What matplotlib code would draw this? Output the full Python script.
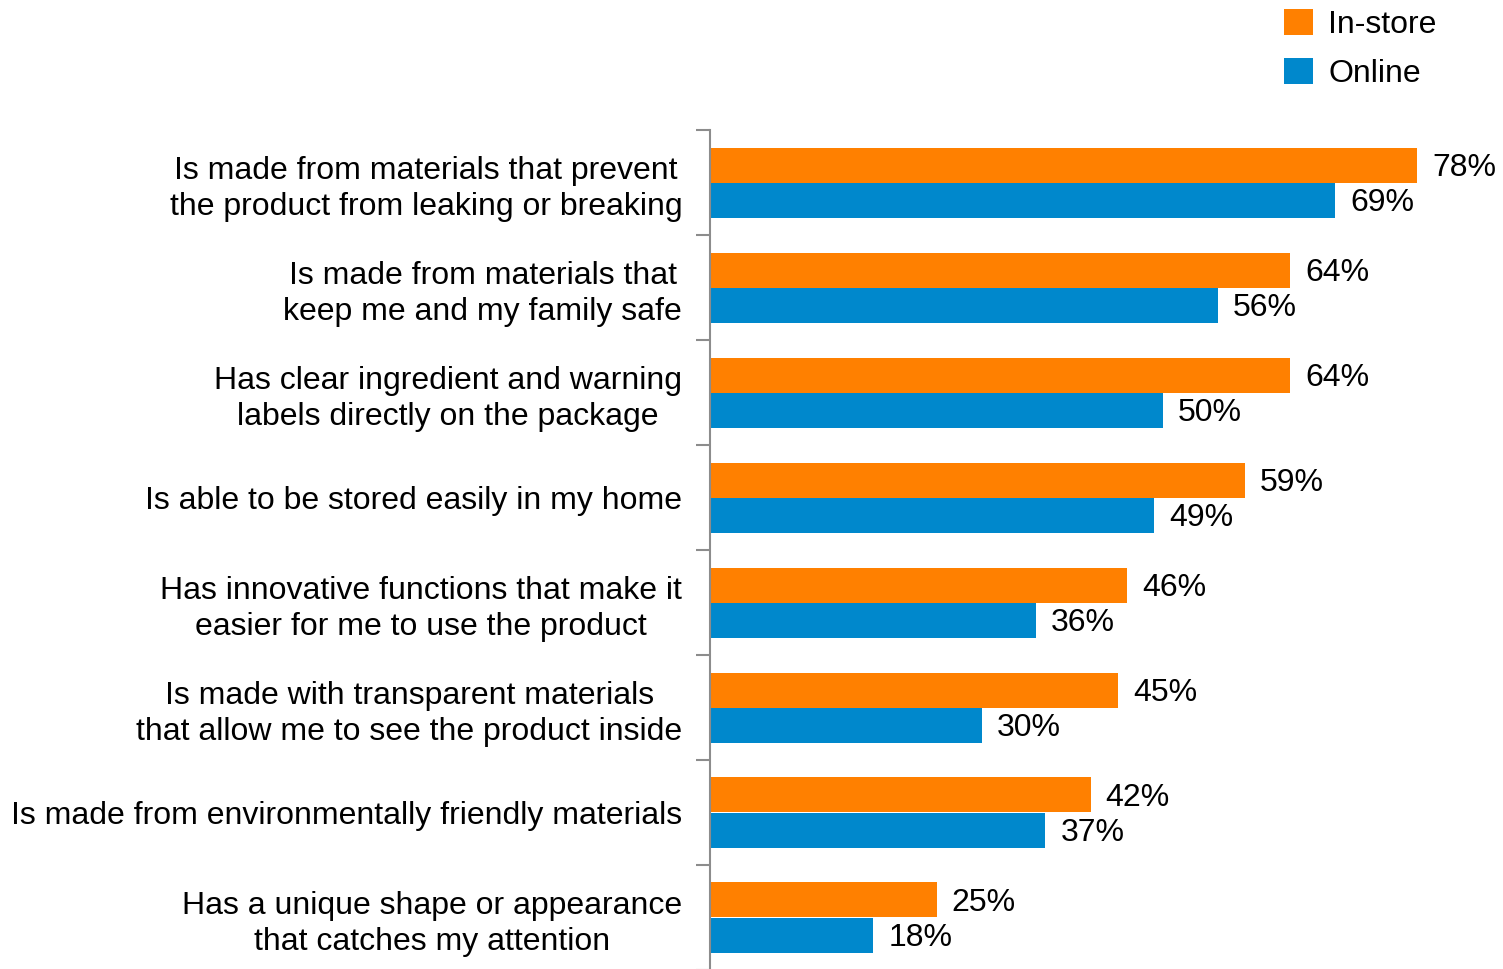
import numpy as np
import matplotlib
matplotlib.use("Agg")
import matplotlib.pyplot as plt

plt.rcParams['font.family'] = ['Liberation Sans', 'DejaVu Sans']

categories = [
    "Is made from materials that prevent\nthe product from leaking or breaking",
    "Is made from materials that\nkeep me and my family safe",
    "Has clear ingredient and warning\nlabels directly on the package",
    "Is able to be stored easily in my home",
    "Has innovative functions that make it\neasier for me to use the product",
    "Is made with transparent materials\nthat allow me to see the product inside",
    "Is made from environmentally friendly materials",
    "Has a unique shape or appearance\nthat catches my attention",
]
in_store = [78, 64, 64, 59, 46, 45, 42, 25]
online = [69, 56, 50, 49, 36, 30, 37, 18]
series_names = ["In-store", "Online"]

orange = "#FF8000"
blue = "#0088CC"
grey = "#8C8C8C"
fs = 23

W, H = 1503, 969
fig = plt.figure(figsize=(W / 100, H / 100), dpi=100)
ax = fig.add_axes([710 / W, (H - 970) / H, 1 - 710 / W, 840 / H])

y = np.arange(len(categories))
bh = 1 / 3
b1 = ax.barh(y - bh / 2, in_store, height=bh, color=orange, label=series_names[0])
b2 = ax.barh(y + bh / 2, online, height=bh, color=blue, label=series_names[1])

for bars, vals in ((b1, in_store), (b2, online)):
    for rect, v in zip(bars, vals):
        ax.annotate(f"{v}%", (rect.get_width(), rect.get_y() + rect.get_height() / 2),
                    xytext=(15, -3), textcoords="offset pixels",
                    ha="left", va="center", fontsize=fs)

ax.set_xlim(0, 87.5)
ax.set_ylim(len(categories) - 0.5, -0.5)

# category labels, centred lines with right edge next to the axis
ax.set_yticks(y)
ax.set_yticklabels(categories, fontsize=fs, multialignment="center", linespacing=1.25)
ax.tick_params(axis="y", length=0, pad=20)
ax.set_yticks(np.arange(-0.5, len(categories) + 0.5, 1), minor=True)
ax.tick_params(axis="y", which="minor", length=10, width=1.5, color=grey)
ax.set_xticks([])

for side in ("top", "right", "bottom"):
    ax.spines[side].set_visible(False)
ax.spines["left"].set_color(grey)
ax.spines["left"].set_linewidth(1.5)

fig.legend(handles=[b1, b2], labels=series_names, loc="upper left",
           bbox_to_anchor=(1278 / W, 1 - 3 / H), frameon=False, fontsize=fs,
           handlelength=0.88, handleheight=0.88, handletextpad=0.5,
           labelspacing=0.55, borderpad=0.2, borderaxespad=0)

fig.savefig("out.png", dpi=100)
